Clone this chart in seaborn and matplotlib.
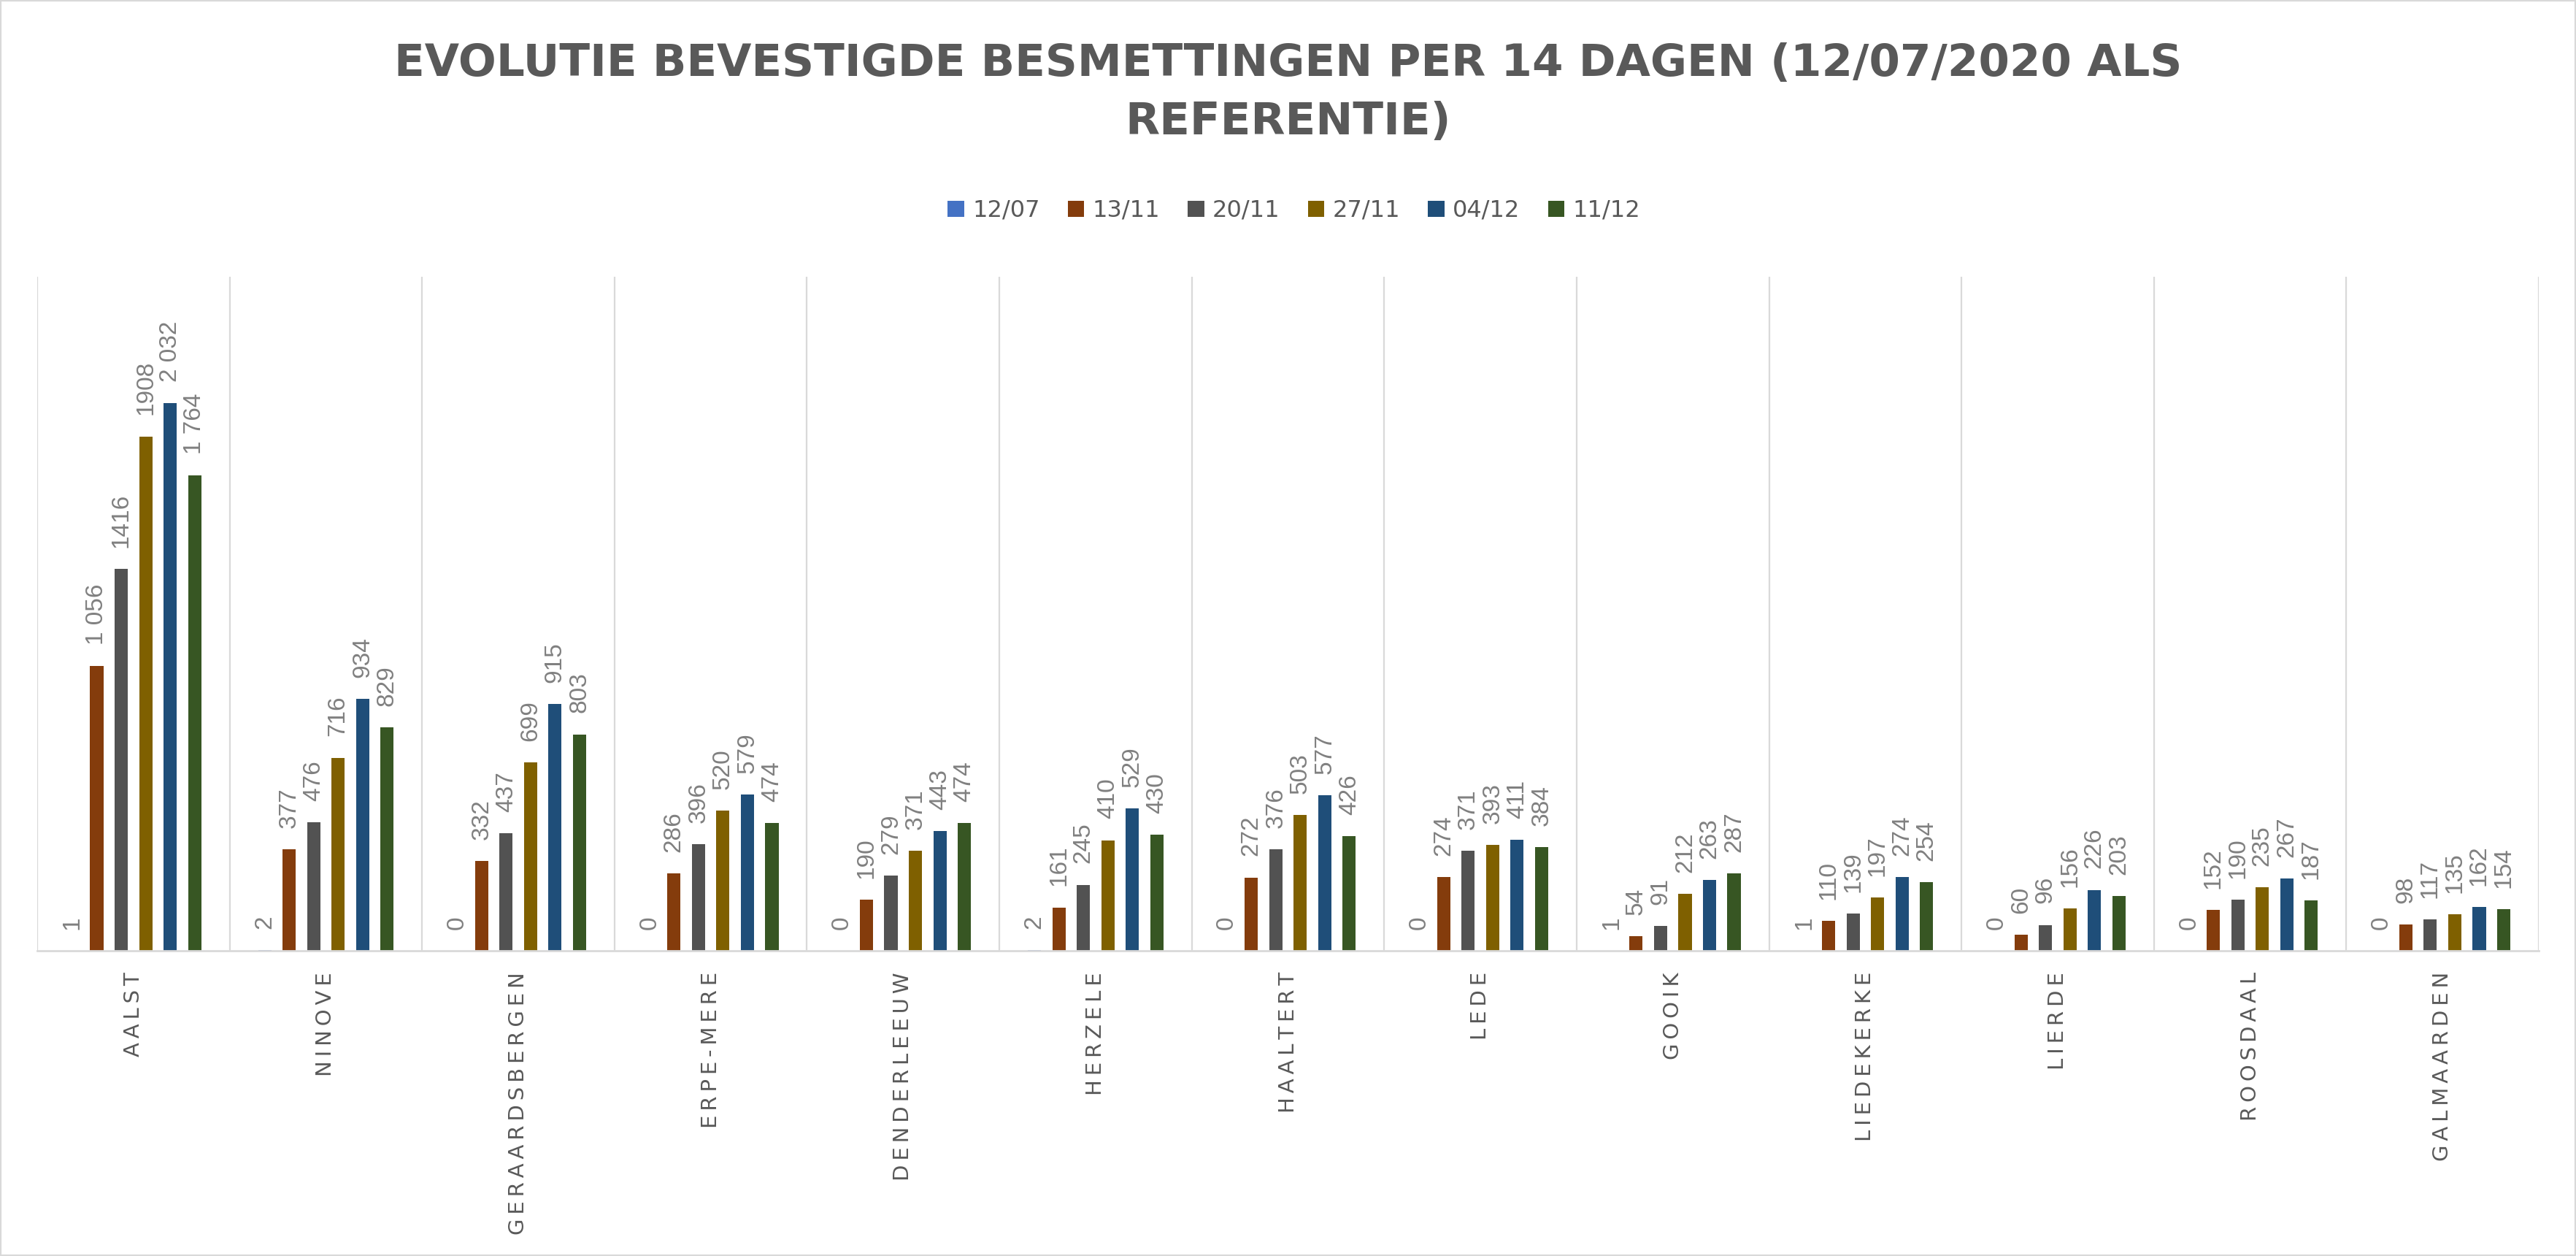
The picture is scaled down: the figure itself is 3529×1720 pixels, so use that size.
import numpy as np
import pandas as pd
import matplotlib
matplotlib.use("Agg")
import matplotlib.pyplot as plt
from matplotlib.patches import Rectangle, Patch
import seaborn as sns

# Gemeenten en data per datum
gemeenten = ["AALST", "NINOVE", "GERAARDSBERGEN", "ERPE-MERE", "DENDERLEEUW", "HERZELE",
             "HAALTERT", "LEDE", "GOOIK", "LIEDEKERKE", "LIERDE", "ROOSDAAL", "GALMAARDEN"]
datums = ["12/07", "13/11", "20/11", "27/11", "04/12", "11/12"]

v_1207 = [1, 2, 0, 0, 0, 2, 0, 0, 1, 1, 0, 0, 0]
v_1311 = [1056, 377, 332, 286, 190, 161, 272, 274, 54, 110, 60, 152, 98]
v_2011 = [1416, 476, 437, 396, 279, 245, 376, 371, 91, 139, 96, 190, 117]
v_2711 = [1908, 716, 699, 520, 371, 410, 503, 393, 212, 197, 156, 235, 135]
v_0412 = [2032, 934, 915, 579, 443, 529, 577, 411, 263, 274, 226, 267, 162]
v_1112 = [1764, 829, 803, 474, 474, 430, 426, 384, 287, 254, 203, 187, 154]

kleuren = ["#4472C4", "#843C0C", "#525252", "#7F6000", "#1F4E79", "#375623"]

# waarden die zonder spatie als label staan
zonder_spatie = {1416, 1908}

reeksen = [v_1207, v_1311, v_2011, v_2711, v_0412, v_1112]
df = pd.DataFrame({
    "gemeente": np.repeat([gemeenten], len(datums), axis=0).ravel(),
    "datum": np.repeat(datums, len(gemeenten)),
    "besmettingen": np.concatenate(reeksen),
})


def fmt(v):
    if v in zonder_spatie:
        return str(v)
    return f"{v:,}".replace(",", " ")


fig = plt.figure(figsize=(35.29, 17.2), dpi=100)
ax = fig.add_axes([0.01445, 0.2430, 0.9711, 0.5367])

sns.barplot(data=df, x="gemeente", y="besmettingen", hue="datum", order=gemeenten,
            hue_order=datums, palette=kleuren, width=0.763, gap=0.46, saturation=1,
            legend=False, ax=ax)

for cont, reeks in zip(ax.containers, reeksen):
    ax.bar_label(cont, labels=[fmt(v) for v in reeks], rotation=90, padding=21,
                 fontsize=24, color="#808080", family="Liberation Sans")

# verticale lijnen tussen categorieën
ax.vlines(np.arange(-0.5, len(gemeenten)), 0, 2500, color="#D9D9D9", lw=1.6, zorder=0)

ax.set_xlim(-0.5, len(gemeenten) - 0.5)
ax.set_ylim(0, 2500)
ax.set_yticks([])
ax.set_xlabel("")
ax.set_ylabel("")
for s in ["top", "right", "left"]:
    ax.spines[s].set_visible(False)
ax.spines["bottom"].set_color("#D9D9D9")
ax.spines["bottom"].set_linewidth(2)
ax.set_xticks(range(len(gemeenten)))
ax.set_xticklabels(["\u2009".join(g) for g in gemeenten], rotation=90, fontsize=21,
                   color="#595959", family="DejaVu Sans")
ax.tick_params(axis="x", length=0, pad=21)

# titel
fig.text(0.5, 0.9259, "EVOLUTIE BEVESTIGDE BESMETTINGEN PER 14 DAGEN (12/07/2020 ALS\nREFERENTIE)",
         ha="center", va="center", fontsize=44, fontweight="bold", color="#595959",
         linespacing=1.44)

# legenda
handles = [Patch(facecolor=c, edgecolor="none") for c in kleuren]
fig.legend(handles, datums, loc="center", bbox_to_anchor=(0.5023, 0.8323), ncol=6,
           frameon=False, fontsize=23, labelcolor="#595959", handlelength=0.7,
           handleheight=0.7, handletextpad=0.35, columnspacing=1.2)

# rand rond de grafiek
fig.patches.append(Rectangle((0, 0), 1, 1, transform=fig.transFigure, fill=False,
                             edgecolor="#D9D9D9", lw=3))

fig.savefig("out.png", dpi=100)
